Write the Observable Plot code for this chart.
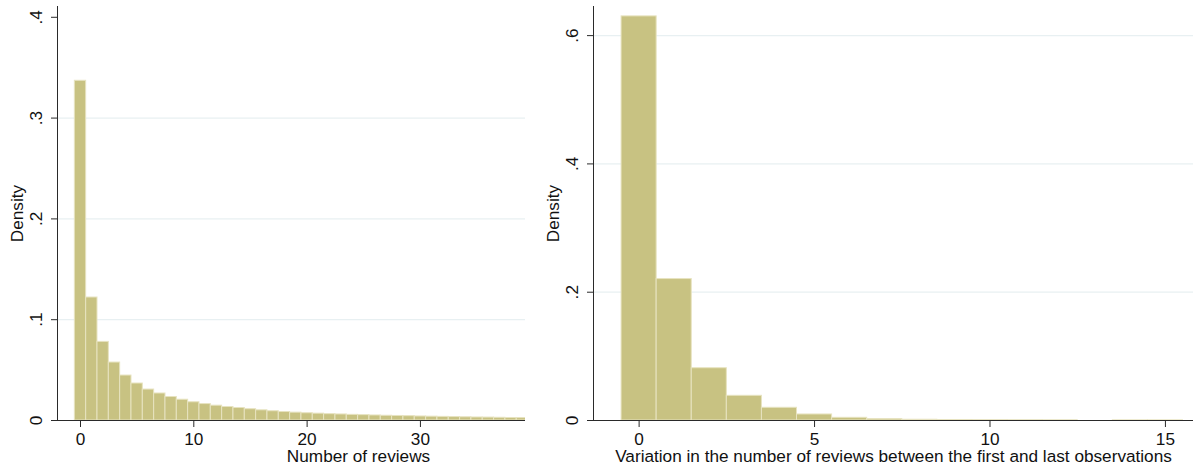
<!DOCTYPE html>
<html>
<head>
<meta charset="utf-8">
<script src="https://cdn.jsdelivr.net/npm/d3@7"></script>
<script src="https://cdn.jsdelivr.net/npm/@observablehq/plot@0.6"></script>
<style>
  html, body { margin: 0; padding: 0; background: #fff; }
  #wrap { display: flex; width: 1195px; height: 467px; overflow: hidden; }
  #left { width: 525px; height: 467px; overflow: hidden; flex: none; }
  #right { width: 667px; height: 467px; overflow: hidden; flex: none; margin-left: 3px; }
  svg { display: block; max-width: none !important; height: 467px !important; }
</style>
</head>
<body>
<div id="wrap"><div id="left"></div><div id="right"></div></div>
<script>
// Left histogram: number of reviews (bin centers) and density
const reviewBins = [0,1,2,3,4,5,6,7,8,9,10,11,12,13,14,15,16,17,18,19,20,21,22,23,24,25,26,27,28,29,30,31,32,33,34,35,36,37,38,39];
const reviewDensity = [0.337,0.122,0.078,0.0575,0.0446,0.0367,0.0307,0.0268,0.0233,0.0206,0.0181,0.0163,0.0147,0.0134,0.0124,0.0112,0.0101,0.0092,0.0084,0.0078,0.0072,0.0068,0.0063,0.0060,0.0056,0.0053,0.0050,0.0047,0.0045,0.0043,0.0040,0.0038,0.0036,0.0034,0.0032,0.0030,0.0029,0.0027,0.0025,0.0024];

// Right histogram: variation in number of reviews (bin centers) and density
const variationBins = [0,1,2,3,4,5,6,7,8,9,10,11,12,13,14,15];
const variationDensity = [0.630,0.2205,0.0815,0.0385,0.0198,0.0094,0.0042,0.0022,0.0012,0.0008,0.0005,0.0004,0.0003,0.0,0.0002,0.0002];

const leftXTicks = [0,10,20,30];
const leftYTicks = [0,0.1,0.2,0.3,0.4];
const leftGrid = [0.1,0.2,0.3];
const rightXTicks = [0,5,10,15];
const rightYTicks = [0,0.2,0.4,0.6];
const rightGrid = [0.2,0.4,0.6];

const leftTitle = "Number of reviews";
const rightTitle = "Variation in the number of reviews between the first and last observations";
const yTitle = "Density";

const barFill = "#c8c282";
const barStroke = "#e7e3c0";
const gridColor = "#e8f0f2";
const axisColor = "#2a2a2a";

const yFmt = d => d === 0 ? "0" : d3.format(".1f")(d).replace(/^0/, "");

function panel({bins, dens, width, marginLeft, marginRight, xDomain, yDomain, xTicks, yTicks, grid, title}) {
  const data = bins.map((b, i) => ({b, v: dens[i]}));
  return Plot.plot({
    width, height: 467,
    marginLeft, marginRight, marginTop: 6, marginBottom: 47,
    style: {fontFamily: "'Liberation Sans', Arial, Helvetica, sans-serif", fontSize: "17.2px", background: "#fff", color: "#111"},
    x: {domain: xDomain},
    y: {domain: yDomain},
    marks: [
      Plot.ruleY(grid, {stroke: gridColor, strokeWidth: 1.3}),
      Plot.rectY(data, {x1: d => d.b - 0.5, x2: d => d.b + 0.5, y: d => d.v, fill: barFill, stroke: barStroke, strokeWidth: 1}),
      Plot.ruleX([xDomain[0]], {stroke: axisColor, strokeWidth: 1}),
      Plot.ruleY([0], {stroke: axisColor, strokeWidth: 1}),
      Plot.axisX({ticks: xTicks, tickSize: 7, tickPadding: 5, label: null, stroke: axisColor}),
      Plot.axisY({ticks: yTicks, tickSize: 6, tickPadding: 15, tickRotate: -90, textAnchor: "middle", lineAnchor: "middle", tickFormat: yFmt, label: null, stroke: axisColor}),
      Plot.text([yTitle], {text: d => d, frameAnchor: "left", dx: -40, rotate: -90, textAnchor: "middle", lineAnchor: "middle"}),
      Plot.text([title], {text: d => d, frameAnchor: "bottom", dy: 29, lineAnchor: "top"})
    ]
  });
}

document.getElementById("left").append(panel({
  bins: reviewBins, dens: reviewDensity, width: 660, marginLeft: 57, marginRight: 1,
  xDomain: [-2.03, 51.1], yDomain: [0, 0.4107], xTicks: leftXTicks, yTicks: leftYTicks, grid: leftGrid, title: leftTitle
}));
document.getElementById("right").append(panel({
  bins: variationBins, dens: variationDensity, width: 667, marginLeft: 65, marginRight: 2,
  xDomain: [-1.3, 15.8], yDomain: [0, 0.6454], xTicks: rightXTicks, yTicks: rightYTicks, grid: rightGrid, title: rightTitle
}));
</script>
</body>
</html>
